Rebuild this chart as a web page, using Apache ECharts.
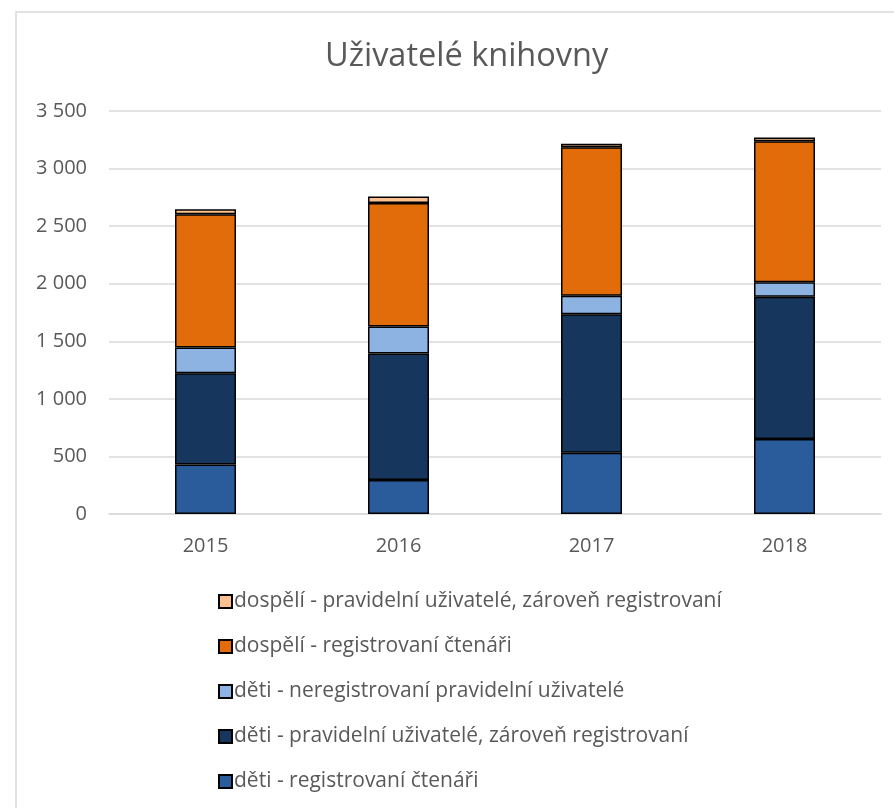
<!DOCTYPE html>
<html>
<head>
<meta charset="utf-8">
<script src="https://cdn.jsdelivr.net/npm/echarts@6/dist/echarts.min.js"></script>
<style>
  html, body { margin: 0; padding: 0; background: #fff; }
  #main { width: 894px; height: 808px; }
</style>
</head>
<body>
<div id="main"></div>
<script>
// data
var years = ['2015', '2016', '2017', '2018'];
var detiRegistrovani = [430, 295, 533, 651];
var detiPravidelni = [793, 1100, 1201, 1236];
var detiNeregistrovani = [222, 234, 162, 125];
var dospeliRegistrovani = [1158, 1071, 1290, 1226];
var dospeliPravidelni = [44, 58, 30, 32];

var seriesNames = [
    'děti - registrovaní čtenáři',
    'děti - pravidelní uživatelé, zároveň registrovaní',
    'děti - neregistrovaní pravidelní uživatelé',
    'dospělí - registrovaní čtenáři',
    'dospělí - pravidelní uživatelé, zároveň registrovaní'
];
var seriesColors = ['#2a5b9b', '#17365d', '#8db3e2', '#e36c0a', '#fac08f'];
var seriesData = [detiRegistrovani, detiPravidelni, detiNeregistrovani, dospeliRegistrovani, dospeliPravidelni];

var myChart = echarts.init(document.getElementById('main'));

var series = seriesData.map(function (d, i) {
    return {
        name: seriesNames[i],
        type: 'bar',
        stack: 'total',
        barWidth: 61,
        data: d,
        itemStyle: {
            color: seriesColors[i],
            borderColor: '#000',
            borderWidth: 1.5
        }
    };
});

var font = 'Open Sans';

var option = {
    animation: false,
    backgroundColor: '#fff',
    textStyle: { fontFamily: font },
    graphic: [{
        type: 'rect',
        shape: { x: 16, y: 12, width: 900, height: 820 },
        style: { fill: 'none', stroke: '#d9d9d9', lineWidth: 1.5 },
        silent: true
    }],
    title: {
        text: 'Uživatelé knihovny',
        left: 320,
        top: 35,
        textStyle: { fontFamily: font, fontSize: 32.5, fontWeight: 'normal', color: '#595959' }
    },
    legend: {
        orient: 'vertical',
        left: 213,
        top: 586,
        height: 220,
        itemWidth: 13,
        itemHeight: 13,
        itemGap: 24,
        icon: 'rect',
        // legend reads top-down from the last series
        data: seriesNames.slice().reverse(),
        textStyle: { fontFamily: font, fontSize: 21, color: '#595959', padding: [0, 0, 0, -3] }
    },
    grid: { left: 109, right: 13, top: 111, bottom: 294 },
    xAxis: {
        type: 'category',
        data: years,
        axisLine: { lineStyle: { color: '#d9d9d9', width: 1.5 } },
        axisTick: { show: false },
        axisLabel: { fontFamily: font, fontSize: 20, color: '#595959', margin: 22 }
    },
    yAxis: {
        type: 'value',
        min: 0,
        max: 3500,
        interval: 500,
        splitLine: { lineStyle: { color: '#d9d9d9', width: 1.5 } },
        axisLabel: {
            fontFamily: font, fontSize: 20, color: '#595959', margin: 22,
            formatter: function (v) {
                return String(v).replace(/\B(?=(\d{3})+(?!\d))/g, ' ');
            }
        }
    },
    series: series
};

myChart.setOption(option);
</script>
</body>
</html>
